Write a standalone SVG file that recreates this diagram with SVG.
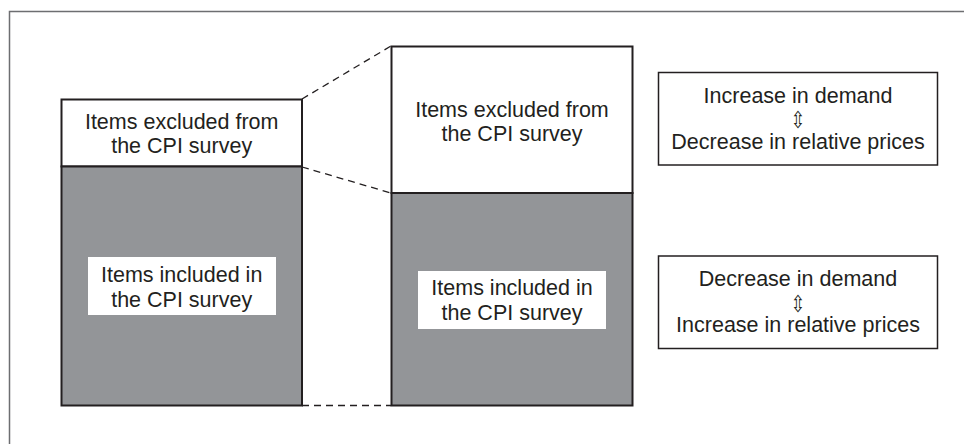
<svg xmlns="http://www.w3.org/2000/svg" width="964" height="444" viewBox="0 0 964 444">
<style>
  text { font-family: "Liberation Sans", Arial, sans-serif; font-size: 21.5px; fill: #231f20; text-anchor: middle; }
  .arrow { font-family: "DejaVu Sans", sans-serif; font-size: 23px; }
  .bar { stroke: #231f20; stroke-width: 2; }
  .white { fill: #ffffff; }
  .grey { fill: #939598; }
  .box { fill: #ffffff; stroke: #231f20; stroke-width: 1.5; }
  .dash { stroke: #231f20; stroke-width: 1.3; stroke-dasharray: 7 5; fill: none; }
</style>
<rect width="964" height="444" fill="#ffffff"/>
<g id="frame">
  <path d="M9.5 444 V11.5 H964" fill="none" stroke="#6d6e71" stroke-width="1.5"/>
</g>
<g id="connectors">
  <line class="dash" x1="302" y1="99" x2="391" y2="46"/>
  <line class="dash" x1="302" y1="167" x2="391" y2="193"/>
  <line class="dash" x1="302" y1="405.5" x2="391" y2="405.5"/>
</g>
<g id="left-excluded">
  <rect class="bar white" x="61.5" y="99.5" width="240.5" height="67"/>
  <text x="181.7" y="128.5">Items excluded from</text>
  <text x="181.7" y="153">the CPI survey</text>
</g>
<g id="left-included">
  <rect class="bar grey" x="61.5" y="166.5" width="240.5" height="239"/>
  <rect class="white" x="88" y="257" width="188" height="58"/>
  <text x="181.7" y="282.3">Items included in</text>
  <text x="181.7" y="306.7">the CPI survey</text>
</g>
<g id="mid-excluded">
  <rect class="bar white" x="391.5" y="46.5" width="241" height="146.5"/>
  <text x="512" y="116.7">Items excluded from</text>
  <text x="512" y="140.7">the CPI survey</text>
</g>
<g id="mid-included">
  <rect class="bar grey" x="391.5" y="193" width="241" height="212.5"/>
  <rect class="white" x="418" y="271" width="188" height="58"/>
  <text x="512" y="295.3">Items included in</text>
  <text x="512" y="320">the CPI survey</text>
</g>
<g id="box-increase">
  <rect class="box" x="658.5" y="72.5" width="279" height="92.5"/>
  <text x="798" y="103.3">Increase in demand</text>
  <text class="arrow" transform="translate(798 128) scale(0.75 1)">⇳</text>
  <text x="798" y="148.5">Decrease in relative prices</text>
</g>
<g id="box-decrease">
  <rect class="box" x="658.5" y="256" width="279" height="92.5"/>
  <text x="798" y="286.3">Decrease in demand</text>
  <text class="arrow" transform="translate(798 311.5) scale(0.75 1)">⇳</text>
  <text x="798" y="332">Increase in relative prices</text>
</g>
</svg>
